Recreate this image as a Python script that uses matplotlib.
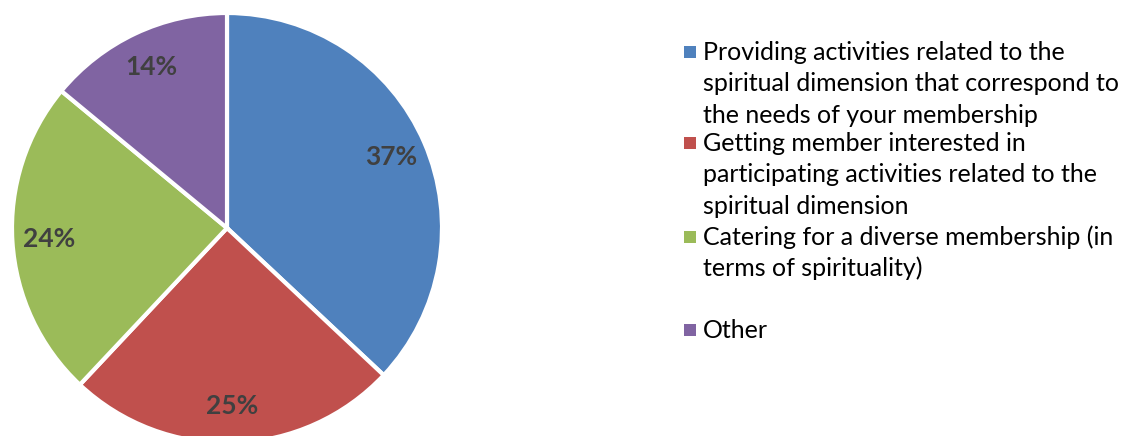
import matplotlib.pyplot as plt

labels = [
    "Providing activities related to the\nspiritual dimension that correspond to\nthe needs of your membership",
    "Getting member interested in\nparticipating activities related to the\nspiritual dimension",
    "Catering for a diverse membership (in\nterms of spirituality)",
    "Other",
]
values = [37, 25, 24, 14]
colors = ["#4F81BD", "#C0504D", "#9BBB59", "#8064A2"]

plt.rcParams['font.family'] = ['Lato', 'DejaVu Sans']

W, H = 1137, 436
fig = plt.figure(figsize=(W / 100, H / 100), dpi=100)

# pie
cx, cy, r = 227, 228, 215
ax = fig.add_axes([(cx - r) / W, (H - cy - r) / H, 2 * r / W, 2 * r / H])
wedges, texts, autotexts = ax.pie(
    values, colors=colors, startangle=90, counterclock=False,
    autopct="%d%%", pctdistance=0.83,
    wedgeprops=dict(edgecolor="white", linewidth=3),
    textprops=dict(color="#404040", fontsize=19, fontweight="bold"),
)
ax.set_xlim(-1, 1)
ax.set_ylim(-1, 1)
ax.set_aspect("equal")

# legend, drawn by hand in pixel coords so multi-line entries line up like the original
lax = fig.add_axes([0, 0, 1, 1])
lax.set_xlim(0, W)
lax.set_ylim(H, 0)
lax.axis("off")

entry_y = [52, 143, 237, 330]
pitch = 31.5
for lab, col, y0 in zip(labels, colors, entry_y):
    lax.scatter([690], [y0], marker="s", s=80, color=col, linewidths=0)
    for i, line in enumerate(lab.split("\n")):
        lax.text(703, y0 + i * pitch, line, fontsize=18, va="center", ha="left", color="black")

fig.savefig("out.png", dpi=100)
